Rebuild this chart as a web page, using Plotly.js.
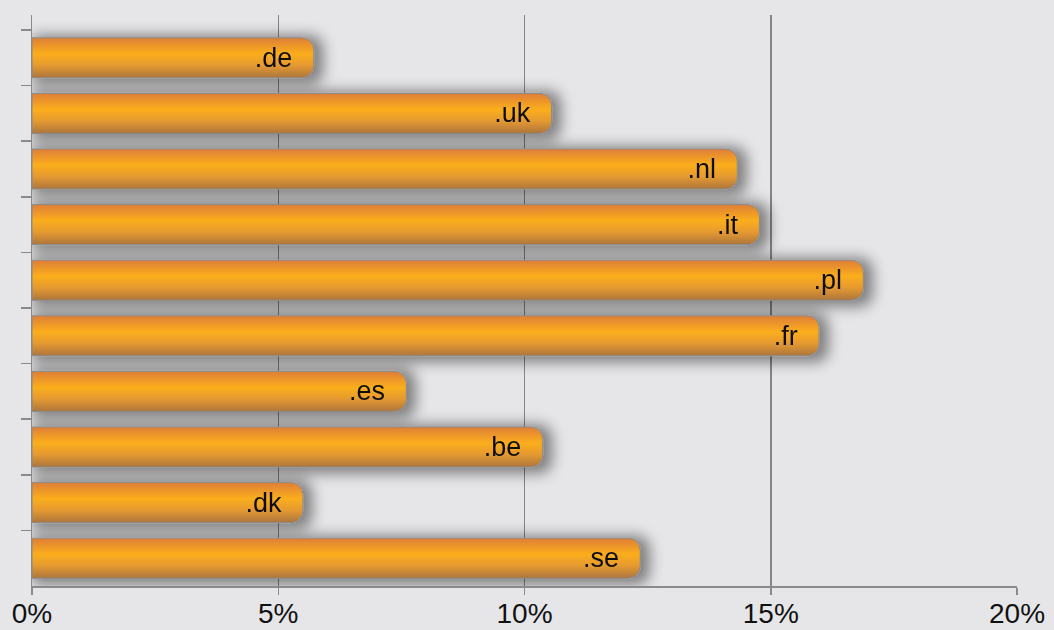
<!DOCTYPE html>
<html>
<head>
<meta charset="utf-8">
<script src="https://cdn.plot.ly/plotly-3.0.1.min.js"></script>
<style>
html,body{margin:0;padding:0;background:#e6e6e8;}
#chart{width:1054px;height:630px;}
</style>
</head>
<body>
<div id="chart"></div>
<script>
const domains = ['.de', '.uk', '.nl', '.it', '.pl', '.fr', '.es', '.be', '.dk', '.se'];
const shares = [5.72, 10.55, 14.32, 14.77, 16.88, 15.98, 7.6, 10.37, 5.5, 12.35];
const tickValues = [0, 5, 10, 15, 20];
const tickLabels = ['0%', '5%', '10%', '15%', '20%'];

const trace = {
  type: 'bar',
  orientation: 'h',
  y: domains,
  x: shares,
  width: 0.72,
  text: domains.map(d => d + '\u00a0\u00a0'),
  textposition: 'inside',
  insidetextanchor: 'end',
  textangle: 0,
  constraintext: 'none',
  textfont: {family: 'Liberation Sans, Arial, sans-serif', size: 27, color: '#111'},
  marker: {color: '#f5a623', cornerradius: 12, line: {color: '#8a8a8a', width: 1}},
  hoverinfo: 'none'
};

const layout = {
  width: 1054, height: 630,
  margin: {l: 32, r: 37, t: 15, b: 44},
  paper_bgcolor: '#e6e6e8',
  plot_bgcolor: '#e6e6e8',
  showlegend: false,
  xaxis: {
    range: [0, 20],
    tickvals: tickValues,
    ticktext: tickLabels,
    showgrid: true,
    gridcolor: '#858585',
    gridwidth: 1.5,
    zeroline: false,
    showline: true,
    linecolor: '#8a8a8a',
    linewidth: 1.5,
    ticks: 'outside',
    ticklen: 7,
    tickcolor: '#8a8a8a',
    tickwidth: 1.5,
    ticklabelstandoff: -5,
    tickfont: {family: 'Liberation Sans, Arial, sans-serif', size: 28, color: '#111'},
    fixedrange: true
  },
  yaxis: {
    type: 'category',
    range: [9.5, -0.77],
    showticklabels: false,
    tickson: 'boundaries',
    ticks: 'outside',
    ticklen: 10,
    tickcolor: '#8a8a8a',
    tickwidth: 1.5,
    showgrid: false,
    zeroline: false,
    showline: true,
    linecolor: '#8a8a8a',
    linewidth: 1.5,
    fixedrange: true
  }
};

Plotly.newPlot('chart', [trace], layout, {displayModeBar: false, staticPlot: true}).then(function(gd) {
  const svg = gd.querySelector('svg.main-svg');
  const ns = 'http://www.w3.org/2000/svg';
  function el(tag, attrs, parent) {
    const e = document.createElementNS(ns, tag);
    Object.keys(attrs).forEach(k => e.setAttribute(k, attrs[k]));
    if (parent) parent.appendChild(e);
    return e;
  }
  let defs = svg.querySelector('defs');
  if (!defs) { defs = el('defs', {}); svg.insertBefore(defs, svg.firstChild); }
  const grad = el('linearGradient', {id: 'barGrad', x1: 0, y1: 0, x2: 0, y2: 1}, defs);
  [[0, '#de7e38'], [0.4, '#fbae1c'], [0.68, '#e69a30'], [1, '#ad763d']].forEach(function(s) {
    el('stop', {offset: s[0], 'stop-color': s[1]}, grad);
  });
  const filt = el('filter', {id: 'barShadow', filterUnits: 'userSpaceOnUse', x: -40, y: -40, width: 1100, height: 660}, defs);
  el('feMorphology', {in: 'SourceAlpha', operator: 'dilate', radius: 4, result: 'dil'}, filt);
  el('feGaussianBlur', {in: 'dil', stdDeviation: 7, result: 'blur'}, filt);
  el('feOffset', {in: 'blur', dx: 5, dy: 2, result: 'off'}, filt);
  el('feFlood', {'flood-color': '#000', 'flood-opacity': 0.45, result: 'col'}, filt);
  el('feComposite', {in: 'col', in2: 'off', operator: 'in', result: 'shadow'}, filt);
  const merge = el('feMerge', {}, filt);
  el('feMergeNode', {in: 'shadow'}, merge);
  el('feMergeNode', {in: 'SourceGraphic'}, merge);
  gd.querySelectorAll('.barlayer .point path').forEach(function(p) {
    p.style.fill = 'url(#barGrad)';
  });
  gd.querySelectorAll('.barlayer g.points').forEach(function(g) {
    g.setAttribute('filter', 'url(#barShadow)');
  });
});
</script>
</body>
</html>
